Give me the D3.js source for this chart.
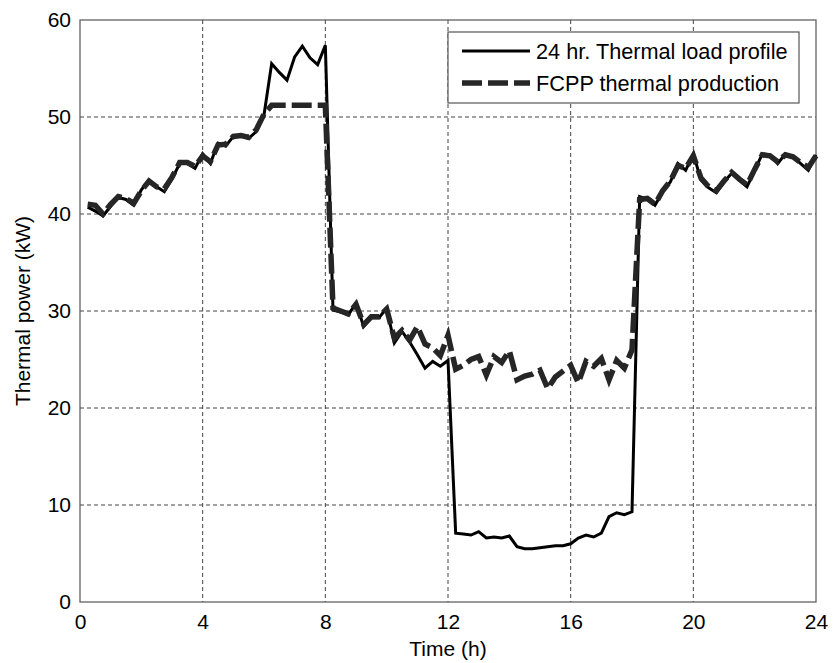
<!DOCTYPE html>
<html>
<head>
<meta charset="utf-8">
<script src="https://cdn.jsdelivr.net/npm/d3@7"></script>
<style>
  html, body { margin: 0; padding: 0; background: #fff; }
  svg { display: block; font-family: "Liberation Sans", Arial, sans-serif; }
</style>
</head>
<body>
<svg id="chart" width="835" height="663"></svg>
<script>
// ---- data ----
const timeHours = [
  0.25, 0.5, 0.75, 1.0, 1.25, 1.5, 1.75, 2.0, 2.25, 2.5, 2.75, 3.0,
  3.25, 3.5, 3.75, 4.0, 4.25, 4.5, 4.75, 5.0, 5.25, 5.5, 5.75, 6.0,
  6.25, 6.5, 6.75, 7.0, 7.25, 7.5, 7.75, 8.0, 8.25, 8.5, 8.75, 9.0,
  9.25, 9.5, 9.75, 10.0, 10.25, 10.5, 10.75, 11.0, 11.25, 11.5, 11.75, 12.0,
  12.25, 12.5, 12.75, 13.0, 13.25, 13.5, 13.75, 14.0, 14.25, 14.5, 14.75, 15.0,
  15.25, 15.5, 15.75, 16.0, 16.25, 16.5, 16.75, 17.0, 17.25, 17.5, 17.75, 18.0,
  18.25, 18.5, 18.75, 19.0, 19.25, 19.5, 19.75, 20.0, 20.25, 20.5, 20.75, 21.0,
  21.25, 21.5, 21.75, 22.0, 22.25, 22.5, 22.75, 23.0, 23.25, 23.5, 23.75, 24.0
];
const thermalLoad = [
  40.7, 40.3, 39.8, 40.8, 41.7, 41.5, 40.9, 42.5, 43.5, 42.8, 42.3, 43.6,
  45.2, 45.2, 44.7, 46.2, 45.2, 47.3, 47.0, 48.0, 48.0, 47.8, 48.5, 50.2,
  55.5, 54.6, 53.8, 56.2, 57.3, 56.1, 55.4, 57.4, 30.1, 29.9, 29.6, 30.8,
  28.4, 29.3, 29.3, 30.3, 26.7, 27.9, 26.8, 25.5, 24.1, 24.8, 24.3, 24.9,
  7.1, 7.0, 6.9, 7.25, 6.6, 6.7, 6.6, 6.8, 5.7, 5.5, 5.5, 5.6,
  5.7, 5.8, 5.8, 6.0, 6.6, 6.9, 6.7, 7.1, 8.8, 9.2, 9.0, 9.3,
  41.8, 41.5, 40.9, 42.3, 43.3, 45.2, 44.5, 46.2, 43.5, 42.7, 42.2, 43.3,
  44.2, 43.5, 42.8, 44.5, 46.2, 46.1, 45.2, 46.2, 45.9, 45.2, 44.5, 46.1
];
const fcppProduction = [
  41.0, 40.9, 40.0, 41.0, 41.8, 41.6, 41.1, 42.4, 43.4, 42.8, 42.6, 43.8,
  45.3, 45.3, 44.9, 46.0, 45.4, 47.1, 47.2, 48.0, 48.1, 47.9, 48.7, 50.3,
  51.2, 51.2, 51.2, 51.2, 51.2, 51.2, 51.2, 51.2, 30.3, 30.0, 29.7, 30.7,
  28.6, 29.4, 29.4, 30.2, 27.2, 28.0, 27.0, 28.4, 26.6, 26.2, 25.4, 27.5,
  24.0, 24.4, 25.0, 25.3, 23.4, 25.3, 24.7, 25.9, 22.9, 23.3, 23.5, 23.9,
  22.0, 23.2, 23.8, 24.4, 22.6, 24.8, 24.3, 25.1, 22.9, 24.9, 24.1, 26.0,
  41.5, 41.6, 41.0, 42.4, 43.4, 45.0, 44.7, 46.0, 43.7, 42.8, 42.4, 43.4,
  44.3, 43.6, 43.0, 44.6, 46.1, 46.0, 45.4, 46.1, 45.9, 45.3, 44.8, 46.0
];
const xTicks = [0, 4, 8, 12, 16, 20, 24];
const yTicks = [0, 10, 20, 30, 40, 50, 60];
const seriesNames = ["24 hr. Thermal load profile", "FCPP thermal production"];
const xTitle = "Time (h)";
const yTitle = "Thermal power (kW)";

// ---- layout ----
const L = 80, R = 816, T = 20, B = 602;
const svg = d3.select("#chart");
const x = d3.scaleLinear().domain([0, 24]).range([L, R]);
const y = d3.scaleLinear().domain([0, 60]).range([B, T]);
const FS = 21;

// grid
const grid = svg.append("g");
grid.selectAll("line.vg").data(xTicks.slice(1, -1)).enter().append("line")
  .attr("x1", d => x(d)).attr("x2", d => x(d)).attr("y1", T).attr("y2", B)
  .attr("stroke", "#444").attr("stroke-width", 1).attr("stroke-dasharray", "4,3");
grid.selectAll("line.hg").data(yTicks.slice(1, -1)).enter().append("line")
  .attr("y1", d => y(d)).attr("y2", d => y(d)).attr("x1", L).attr("x2", R)
  .attr("stroke", "#444").attr("stroke-width", 1).attr("stroke-dasharray", "4,3");

// axes (labels via d3 axes)
const xAxis = svg.append("g").attr("transform", `translate(0,${B})`)
  .call(d3.axisBottom(x).tickValues(xTicks).tickSize(0).tickPadding(12).tickFormat(d3.format("d")));
const yAxis = svg.append("g").attr("transform", `translate(${L},0)`)
  .call(d3.axisLeft(y).tickValues(yTicks).tickSize(0).tickPadding(9).tickFormat(d3.format("d")));
[xAxis, yAxis].forEach(g => {
  g.select(".domain").remove();
  g.selectAll("text").attr("font-size", FS).attr("fill", "#000")
    .attr("font-family", "'Liberation Sans', Arial, sans-serif");
});

// frame
svg.append("rect").attr("x", L).attr("y", T).attr("width", R - L).attr("height", B - T)
  .attr("fill", "none").attr("stroke", "#555").attr("stroke-width", 1.2);

// lines
const loadData = timeHours.map((t, i) => [t, thermalLoad[i]]);
const fcppData = timeHours.map((t, i) => [t, fcppProduction[i]]);
const line = d3.line().x(d => x(d[0])).y(d => y(d[1]));

svg.append("path").datum(loadData).attr("d", line)
  .attr("fill", "none").attr("stroke", "#000").attr("stroke-width", 3)
  .attr("stroke-linejoin", "miter");
svg.append("path").datum(fcppData).attr("d", line)
  .attr("fill", "none").attr("stroke", "#262626").attr("stroke-width", 5.5)
  .attr("stroke-dasharray", "20,6").attr("stroke-linejoin", "miter");

// legend
const lg = svg.append("g");
lg.append("rect").attr("x", 448).attr("y", 32).attr("width", 351).attr("height", 71)
  .attr("fill", "#fff").attr("stroke", "#555").attr("stroke-width", 1.2);
lg.append("line").attr("x1", 462).attr("x2", 530).attr("y1", 51).attr("y2", 51)
  .attr("stroke", "#000").attr("stroke-width", 3);
lg.append("line").attr("x1", 462).attr("x2", 530).attr("y1", 83).attr("y2", 83)
  .attr("stroke", "#262626").attr("stroke-width", 5.5).attr("stroke-dasharray", "20,6");
lg.selectAll("text").data(seriesNames).enter().append("text")
  .attr("x", 536).attr("y", (d, i) => 59 + i * 32)
  .attr("font-size", 21.7).attr("fill", "#000").text(d => d);

// titles
svg.append("text").attr("x", (L + R) / 2).attr("y", 656).attr("text-anchor", "middle")
  .attr("font-size", FS).attr("fill", "#000").text(xTitle);
svg.append("text").attr("transform", `translate(30,${(T + B) / 2}) rotate(-90)`)
  .attr("text-anchor", "middle").attr("font-size", FS).attr("fill", "#000").text(yTitle);
</script>
</body>
</html>
